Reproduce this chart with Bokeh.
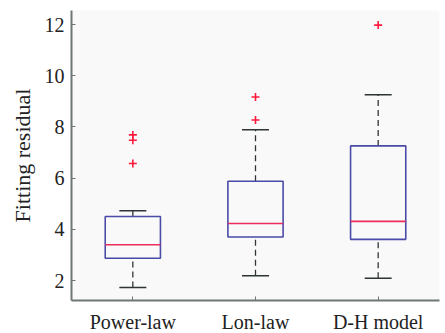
from bokeh.plotting import figure
from bokeh.models import FactorRange, Range1d, FixedTicker, ColumnDataSource
from bokeh.transform import dodge
from bokeh.embed import file_html
from bokeh.resources import INLINE

categories = ["Power-law", "Lon-law", "D-H model"]
lower_whisker = [1.73, 2.19, 2.09]
q1 = [2.87, 3.70, 3.61]
median = [3.40, 4.23, 4.31]
q3 = [4.50, 5.88, 7.26]
upper_whisker = [4.73, 7.89, 9.26]
outlier_cat = ["Power-law", "Power-law", "Power-law", "Lon-law", "Lon-law", "D-H model"]
outlier_val = [7.69, 7.48, 6.57, 9.17, 8.27, 11.98]
y_ticks = [2, 4, 6, 8, 10, 12]

FONT = "Liberation Serif"
AXIS_COLOR = "#6e7676"
BOX_COLOR = "#4a4aa8"
MED_COLOR = "#ec2c5c"
WHISK_COLOR = "#2f3535"
OUT_COLOR = "#ff1a3c"

p = figure(x_range=FactorRange(*categories), y_range=Range1d(1.22, 12.55),
           frame_width=368, frame_height=290,
           min_border_left=71, min_border_right=2, min_border_top=10, min_border_bottom=27,
           output_backend="svg", toolbar_location=None)

src = ColumnDataSource(dict(cat=categories, lw=lower_whisker, q1=q1, med=median,
                            q3=q3, uw=upper_whisker))

# whiskers (dashed)
p.segment(x0="cat", y0="q3", x1="cat", y1="uw", source=src,
          line_color=WHISK_COLOR, line_width=1.3, line_dash="6 4")
p.segment(x0="cat", y0="lw", x1="cat", y1="q1", source=src,
          line_color=WHISK_COLOR, line_width=1.3, line_dash="6 4")
# caps
p.segment(x0=dodge("cat", -0.11, range=p.x_range), y0="uw",
          x1=dodge("cat", 0.11, range=p.x_range), y1="uw", source=src,
          line_color=WHISK_COLOR, line_width=1.5)
p.segment(x0=dodge("cat", -0.11, range=p.x_range), y0="lw",
          x1=dodge("cat", 0.11, range=p.x_range), y1="lw", source=src,
          line_color=WHISK_COLOR, line_width=1.5)
# boxes
p.vbar(x="cat", width=0.45, bottom="q1", top="q3", source=src,
       fill_color=None, line_color=BOX_COLOR, line_width=1.6)
# medians
p.segment(x0=dodge("cat", -0.225, range=p.x_range), y0="med",
          x1=dodge("cat", 0.225, range=p.x_range), y1="med", source=src,
          line_color=MED_COLOR, line_width=1.6)
# outliers
p.scatter(x=outlier_cat, y=outlier_val, marker="cross", size=8,
          line_color=OUT_COLOR, line_width=1.6)

p.xgrid.visible = False
p.ygrid.visible = False
p.outline_line_color = None
p.background_fill_color = "#f9f9f9"
p.border_fill_color = "white"

p.yaxis.ticker = FixedTicker(ticks=y_ticks)
for ax in (p.xaxis[0], p.yaxis[0]):
    ax.axis_line_color = AXIS_COLOR
    ax.axis_line_width = 2
    ax.major_tick_line_color = AXIS_COLOR
    ax.major_tick_in = 4
    ax.major_tick_out = 0
    ax.minor_tick_line_color = None
    ax.major_label_text_font = FONT
    ax.major_label_text_font_size = "20px"
    ax.major_label_text_color = "#222222"
    ax.axis_label_text_font = FONT
    ax.axis_label_text_font_style = "normal"
    ax.axis_label_text_color = "#222222"

p.xaxis.major_label_standoff = 10
p.yaxis.major_label_standoff = 7
p.yaxis.axis_label = "Fitting residual"
p.yaxis.axis_label_text_font_size = "22px"
p.yaxis.axis_label_standoff = 7
p.xaxis.group_text_font_size = "20px"

open("out.html", "w").write(file_html(p, INLINE))
